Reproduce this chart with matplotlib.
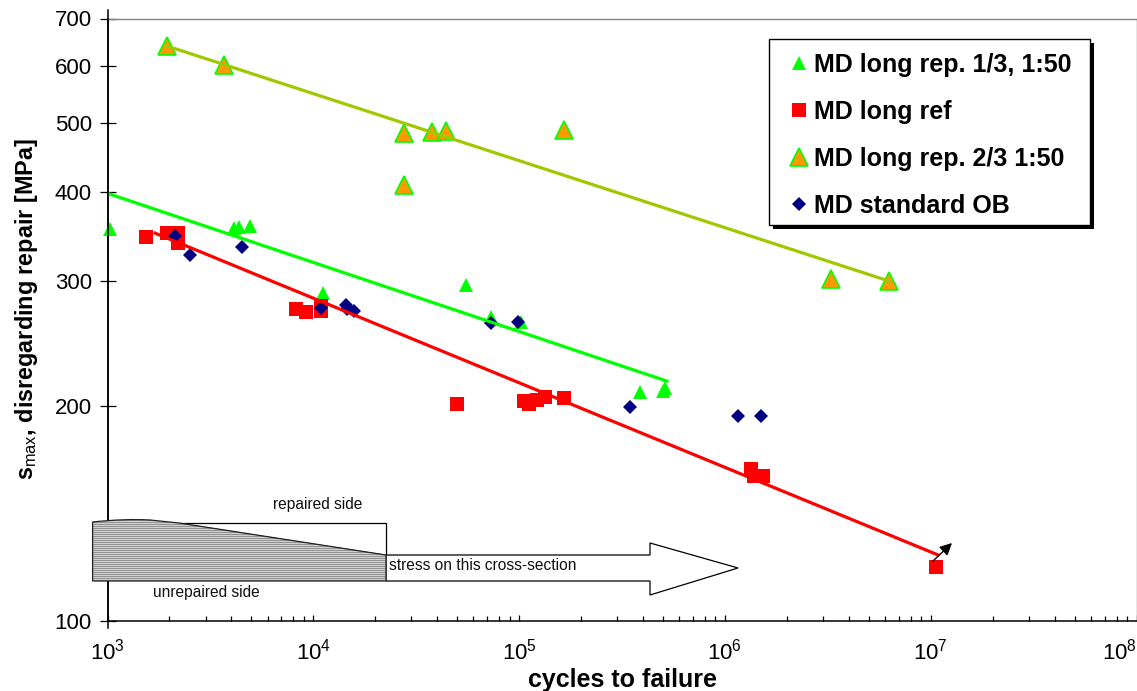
import numpy as np
import matplotlib
matplotlib.use("Agg")
import matplotlib.pyplot as plt
from matplotlib.patches import Polygon, Rectangle, PathPatch
from matplotlib.path import Path

plt.rcParams['font.family'] = ['Liberation Sans', 'DejaVu Sans']
plt.rcParams['mathtext.fontset'] = 'custom'
plt.rcParams['mathtext.rm'] = 'Liberation Sans'
plt.rcParams['mathtext.bf'] = 'Liberation Sans:bold'
plt.rcParams['mathtext.default'] = 'rm'

# ---- data ----
tri_x = [1028, 4118, 4355, 4920, 11150, 55200, 73100, 102000, 386000, 500000, 510000]
tri_y = [354.7, 355.9, 357, 358, 288.5, 296, 267, 263, 209.6, 210.0, 212]

ref_x = [1538, 1945, 2201, 2201, 8240, 9215, 10900, 10900, 49900, 105700, 111700,
         122200, 133600, 165000, 1340000, 1386000, 1530000, 10600000]
ref_y = [345.6, 350, 350, 339, 273.5, 271, 276.6, 272.5, 201.5, 203.5, 201.5,
         204, 206, 205.5, 163.4, 159.7, 159.7, 119]

rep_x = [1945, 3681, 27590, 37780, 44150, 27590, 165000, 3278000, 6266000]
rep_y = [640.5, 602, 483.6, 485, 486.7, 408.7, 488, 301.8, 299.8]

std_x = [2128, 2518, 4503, 10900, 14400, 14570, 15780, 73100, 98800, 346000, 1158000, 1496000]
std_y = [346.7, 326, 334.6, 274.5, 277.5, 274, 272.5, 261.8, 263, 199.6, 193.8, 193.8]

fit_rep_x = [1945, 6266000]
fit_rep_y = [640.5, 299.8]
fit_tri_x = [1000, 523000]
fit_tri_y = [398, 217]
fit_ref_x = [1702, 10840000]
fit_ref_y = [350, 123.8]

legend_labels = ['MD long rep. 1/3, 1:50', 'MD long ref', 'MD long rep. 2/3 1:50', 'MD standard OB']
x_ticks = [1e3, 1e4, 1e5, 1e6, 1e7, 1e8]
x_tick_labels = ['$10^{3}$', '$10^{4}$', '$10^{5}$', '$10^{6}$', '$10^{7}$', '$10^{8}$']
y_ticks = [100, 200, 300, 400, 500, 600, 700]

W, H = 1137, 691
fig = plt.figure(figsize=(W / 100, H / 100), dpi=100, facecolor='white')
ax = fig.add_axes([107.5 / W, 1 - 621 / H, (1136.5 - 107.5) / W, (621 - 18.5) / H])
ax.set_xscale('log')
ax.set_yscale('log')
ax.set_xlim(1e3, 1e8)
ax.set_ylim(100, 700)

GREEN = '#00FF00'
RED = '#FF0000'
NAVY = '#000080'
ORANGE = '#FF9900'
OLIVE = '#A0C800'

h_tri, = ax.plot(tri_x, tri_y, ls='none', marker='^', ms=9.6, color=GREEN, mew=0, zorder=3, clip_on=False)
h_ref, = ax.plot(ref_x, ref_y, ls='none', marker='s', ms=10, color=RED, mew=0, zorder=3.1)
h_rep, = ax.plot(rep_x, rep_y, ls='none', marker='^', ms=12.5, mfc=ORANGE, mec=GREEN, mew=1.2, zorder=3.2)
h_std, = ax.plot(std_x, std_y, ls='none', marker='D', ms=6.8, color=NAVY, mew=0, zorder=3.3)
ax.plot(fit_rep_x, fit_rep_y, color=OLIVE, lw=2.3, zorder=3.4)
ax.plot(fit_tri_x, fit_tri_y, color=GREEN, lw=2.3, zorder=3.4)
ax.plot(fit_ref_x, fit_ref_y, color=RED, lw=2.3, zorder=3.4)

for s in ['top', 'right']:
    ax.spines[s].set_color('#808080')
    ax.spines[s].set_linewidth(1)
ax.spines['bottom'].set_linewidth(1.1)
ax.spines['left'].set_linewidth(1.1)

ax.set_xticks(x_ticks)
ax.set_xticklabels(x_tick_labels, fontsize=16)
ax.get_xticklabels()[-1].set_ha('right')
ax.xaxis.set_minor_locator(matplotlib.ticker.LogLocator(base=10, subs=range(2, 10), numticks=20))
ax.xaxis.set_minor_formatter(matplotlib.ticker.NullFormatter())
ax.tick_params(axis='x', which='major', direction='in', length=4.6, width=0.9, pad=13)
ax.tick_params(axis='x', which='minor', direction='in', length=3.8, width=0.9)
ax.set_yticks(y_ticks)
ax.set_yticklabels([str(v) for v in y_ticks], fontsize=16)
ax.yaxis.set_minor_locator(matplotlib.ticker.NullLocator())
ax.tick_params(axis='y', which='major', direction='inout', length=11.5, width=0.9, pad=5.5)

ax.set_xlabel('cycles to failure', fontsize=18, fontweight='bold', va='center')
ax.xaxis.set_label_coords(0.5, -(680 - 621) / 602.5)
fig.text(27 / W, 1 - 309 / H, r'$\mathbf{s}_{\mathrm{max}}$, disregarding repair [MPa]', rotation=90,
         fontsize=16.8, fontweight='bold', ha='center', va='center')

# overlay in pixel coordinates for the schematic and annotations
ov = fig.add_axes([0, 0, 1, 1], facecolor='none')
ov.set_xlim(0, W)
ov.set_ylim(H, 0)
ov.axis('off')

# legend
ov.add_patch(Rectangle((772.5, 42.5), 321.5, 186.5, fc='black', ec='none', zorder=5))
ov.add_patch(Rectangle((768.5, 38.5), 321.5, 186, fc='white', ec='black', lw=1, zorder=5.1))
leg = ov.legend([h_tri, h_ref, h_rep, h_std], legend_labels,
                loc='center left', bbox_to_anchor=(784, 135.5), bbox_transform=ov.transData,
                borderaxespad=0, frameon=False,
                prop={'family': 'Liberation Sans', 'weight': 'bold', 'size': 18},
                labelspacing=0.92, borderpad=0, handletextpad=0, handlelength=1.2,
                numpoints=1)
leg.set_zorder(6)

# axis overshoot
ov.plot([107.5, 107.5], [10, 628], color='black', lw=1.1, zorder=1)

# arrow body
ov.add_patch(Polygon([(386, 555), (650, 555), (650, 543), (738, 568), (650, 595), (650, 581), (386, 581)],
                     closed=True, fc='white', ec='black', lw=0.9, zorder=2))
# repaired side box
ov.add_patch(Polygon([(179, 522.5), (386, 522.5), (386, 555)], closed=True, fc='white', ec='black', lw=0.9, zorder=2))
# tapered section
verts = [(92.6, 581), (92.6, 522), (125, 518.5), (150, 520), (179, 523), (386, 555), (386, 581), (92.6, 581)]
codes = [Path.MOVETO, Path.LINETO, Path.CURVE3, Path.CURVE3, Path.LINETO, Path.LINETO, Path.LINETO, Path.CLOSEPOLY]
section = PathPatch(Path(verts, codes), fc='#d0d0d0', ec='none', zorder=3)
ov.add_patch(section)
for yy in np.arange(518, 582, 2.0):
    ln, = ov.plot([92, 387], [yy, yy], color='#888888', lw=0.6, zorder=3.1)
    ln.set_clip_path(section)
ov.add_patch(PathPatch(Path(verts, codes), fc='none', ec='#222222', lw=0.9, zorder=3.2))

ov.text(273, 505, 'repaired side', fontsize=11.2, ha='left', va='center', color='#111111')
ov.text(153, 592, 'unrepaired side', fontsize=11.2, ha='left', va='center', color='#111111')
ov.text(389, 565, 'stress on this cross-section', fontsize=11.2, ha='left', va='center', color='#111111')

ov.annotate('', xy=(952, 543), xytext=(933, 561),
            arrowprops=dict(arrowstyle='-|>', color='black', lw=1, mutation_scale=18, shrinkA=0, shrinkB=0))

fig.savefig('out.png', dpi=100)
